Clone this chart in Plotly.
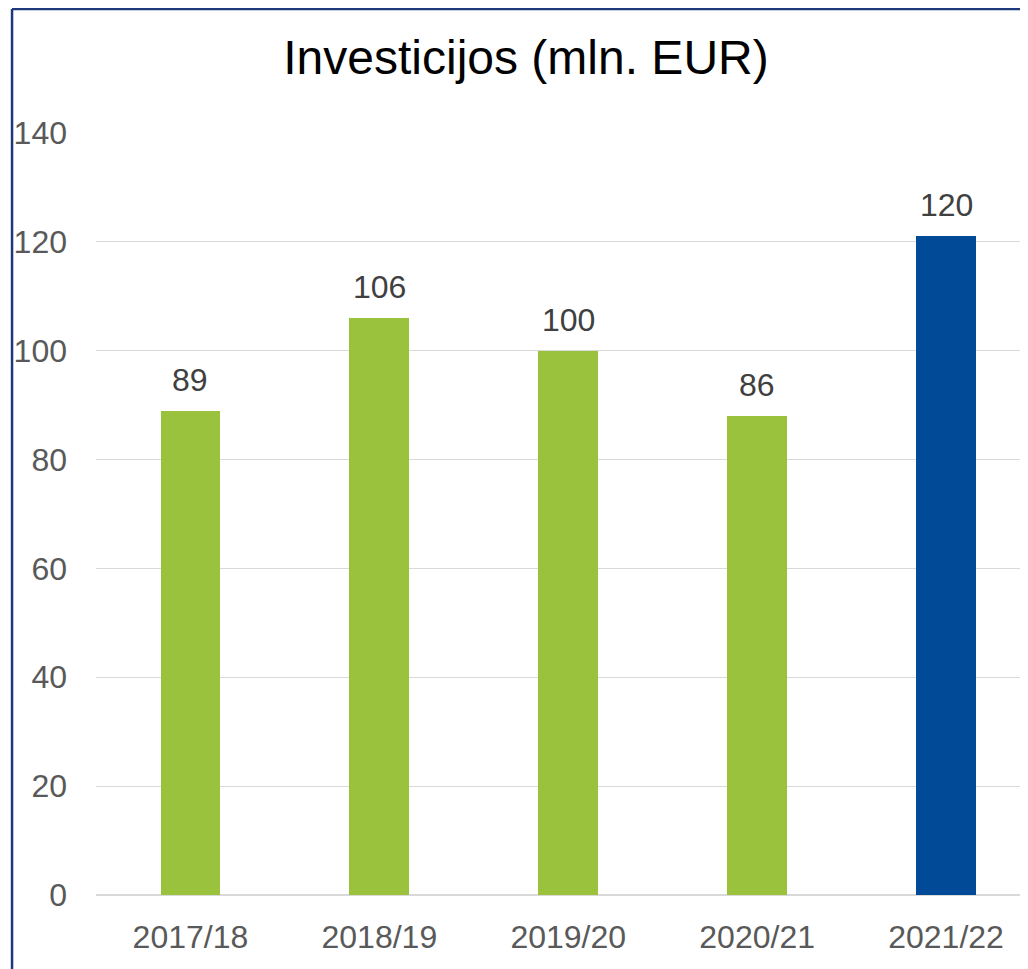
import plotly.graph_objects as go

categories = ["2017/18", "2018/19", "2019/20", "2020/21", "2021/22"]
values = [89, 106, 100, 88, 121]
labels = ["89", "106", "100", "86", "120"]
colors = ["#9AC23C", "#9AC23C", "#9AC23C", "#9AC23C", "#004A98"]
y_ticks = [0, 20, 40, 60, 80, 100, 120, 140]

# the page body adds an 8px offset; figure coordinates = page coordinates - 8
OFF = 8
W, H = 1028 - OFF, 969 - OFF
ml, mr, mt, mb = 95.5 - OFF, 0, 133 - OFF, H - (895 - OFF)
pw = W - ml - mr
ph = H - mt - mb

FONT = "Liberation Sans, Arial"
xs = list(range(len(categories)))

fig = go.Figure(go.Bar(
    x=xs, y=values,
    marker=dict(color=colors, line=dict(width=0)),
    width=0.317, hoverinfo="x+y",
))

for xi, v, lab in zip(xs, values, labels):
    fig.add_annotation(x=xi, y=v, text=lab, showarrow=False, xanchor="center", yanchor="bottom",
                       yshift=11, font=dict(size=32, color="#404040", family=FONT))

unit = 189.0
right = -0.5 + pw / unit

fig.update_layout(
    width=W, height=H,
    margin=dict(l=ml, r=mr, t=mt, b=mb, pad=0),
    paper_bgcolor="white", plot_bgcolor="white",
    font=dict(family=FONT, size=32, color="#595959"),
    title=dict(text="Investicijos (mln. EUR)", x=(526 - OFF) / W, xref="container", xanchor="center",
               y=1 - (57 - OFF) / H, yref="container", yanchor="middle",
               font=dict(size=48, color="#000000", family=FONT)),
    showlegend=False,
    xaxis=dict(range=[-0.5, right], tickvals=xs, ticktext=categories,
               showgrid=False, zeroline=False, showline=False, ticks="",
               ticklabelstandoff=20, tickfont=dict(size=32, color="#595959")),
    yaxis=dict(range=[0, 140], tickvals=y_ticks, showgrid=True, gridcolor="#D9D9D9", gridwidth=1.2,
               zeroline=True, zerolinecolor="#D9D9D9", zerolinewidth=1.5, showline=False, ticks="",
               ticklabelstandoff=28, tickfont=dict(size=32, color="#595959")),
    bargap=0,
)

# figure border (left and top visible; right/bottom beyond view)
x0 = (11.5 - OFF - ml) / pw
y_top = 1 + (mt - 1) / ph
fig.add_shape(type="line", xref="paper", yref="paper", x0=x0, x1=x0, y0=-mb / ph - 0.02, y1=y_top,
              line=dict(color="#1F3A7A", width=2.5))
fig.add_shape(type="line", xref="paper", yref="paper", x0=x0, x1=1.05, y0=y_top, y1=y_top,
              line=dict(color="#1F3A7A", width=2.5))

fig.write_html("out.html")
